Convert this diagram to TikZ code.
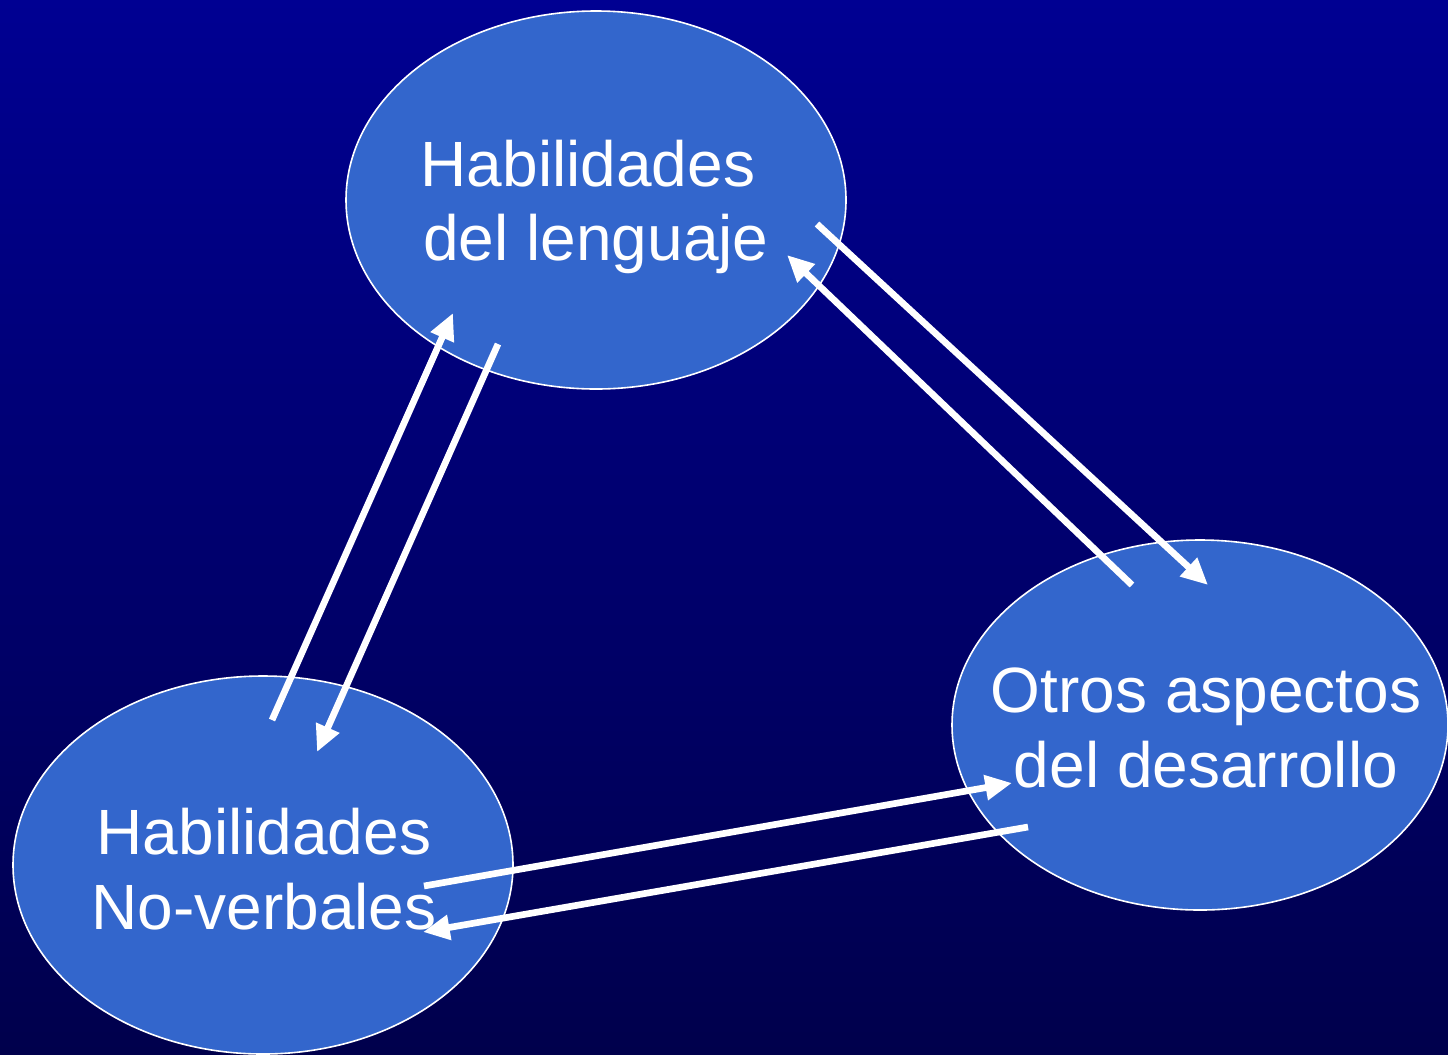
\documentclass[tikz,border=0pt]{standalone}
\usepackage{fontspec}
\setmainfont{Liberation Sans}
\usetikzlibrary{arrows.meta,shapes.geometric}
\definecolor{bgtop}{RGB}{0,0,146}
\definecolor{bgbot}{RGB}{0,0,76}
\definecolor{ellfill}{RGB}{51,102,204}
\tikzset{
  blob/.style={ellipse, fill=ellfill, draw=white, line width=1.2pt, inner sep=0pt},
  lbl/.style={text=white, align=center, font=\fontsize{48}{56}\selectfont, inner sep=0pt},
  conn/.style={draw=white, line width=5pt, -{Triangle[length=20pt,width=18pt]}}
}
\begin{document}
\begin{tikzpicture}[x=0.75pt,y=-0.75pt]
\useasboundingbox (0,0) rectangle (1448,1054);
\shade[top color=bgtop, bottom color=bgbot] (0,0) rectangle (1448,1054);
\node[blob, minimum width=500*0.75pt, minimum height=378*0.75pt] (top) at (596,200) {};
\node[blob, minimum width=500*0.75pt, minimum height=378*0.75pt] (nv) at (263,865) {};
\node[blob, minimum width=496*0.75pt, minimum height=370*0.75pt] (otros) at (1200,725) {};
\node[lbl] (toplbl) at (596,207) {Habilidades\hspace*{12pt}\\del lenguaje};
\node[lbl] (nvlbl) at (264,869) {Habilidades\\No-verbales};
\node[lbl] (otroslbl) at (1206,728) {Otros aspectos\\del desarrollo};
% arrow end points
\coordinate (a1) at (272,720); \coordinate (a2) at (453,313);
\coordinate (b1) at (498,344); \coordinate (b2) at (317,752);
\coordinate (c1) at (817,224); \coordinate (c2) at (1208,585);
\coordinate (d1) at (1132,585); \coordinate (d2) at (787,255);
\coordinate (e1) at (424,886); \coordinate (e2) at (1012,783);
\coordinate (f1) at (1028,827); \coordinate (f2) at (423,932);
\draw[conn] (a1) -- (a2);
\draw[conn] (b1) -- (b2);
\draw[conn] (c1) -- (c2);
\draw[conn] (d1) -- (d2);
\draw[conn] (e1) -- (e2);
\draw[conn] (f1) -- (f2);
\end{tikzpicture}
\end{document}
